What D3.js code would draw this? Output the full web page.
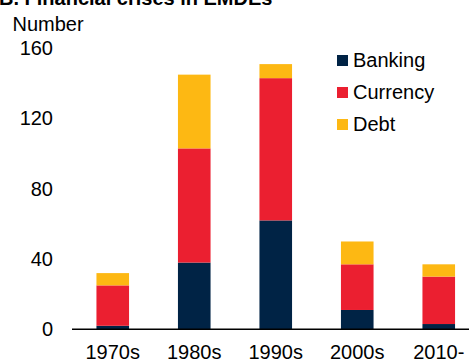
<!DOCTYPE html>
<html>
<head>
<meta charset="utf-8">
<script src="https://cdn.jsdelivr.net/npm/d3@7"></script>
<style>
  html, body { margin: 0; padding: 0; background: #fff; }
  svg { display: block; font-family: "Liberation Sans", Arial, Helvetica, sans-serif; }
</style>
</head>
<body>
<svg id="chart" width="469" height="363"></svg>
<script>
// Financial crises in EMDEs, by decade
const decades = ["1970s", "1980s", "1990s", "2000s", "2010-"];
const banking = [2, 38, 62, 11, 3];
const currency = [23, 65, 81, 26, 27];
const debt = [7, 42, 8, 13, 7];
const seriesNames = ["Banking", "Currency", "Debt"];
const seriesColors = ["#002345", "#EB1F30", "#FDB813"];
const yTicks = [0, 40, 80, 120, 160];

const rows = decades.map((d, i) => ({
  decade: d, Banking: banking[i], Currency: currency[i], Debt: debt[i]
}));
const stacked = d3.stack().keys(seriesNames)(rows);

const svg = d3.select("#chart");
const x = d3.scaleBand().domain(decades).range([72, 479.5]).paddingInner(0.6).paddingOuter(0.3);
const y = d3.scaleLinear().domain([0, 160]).range([329.3, 48.3]);

// Panel title, its upper part runs past the top edge
svg.append("text")
  .attr("x", -1).attr("y", 5)
  .attr("font-size", 20).attr("font-weight", "bold").attr("fill", "#000")
  .text("B. Financial crises in EMDEs");

// Axis title
svg.append("text")
  .attr("x", 12.5).attr("y", 31)
  .attr("font-size", 20).attr("fill", "#000")
  .text("Number");

// Y tick labels
const yAxis = svg.append("g").attr("transform", "translate(53,0)")
  .call(d3.axisLeft(y).tickValues(yTicks).tickSize(0).tickPadding(0));
yAxis.select(".domain").remove();
yAxis.selectAll("text").attr("font-size", 20).attr("fill", "#000")
  .attr("font-family", "Liberation Sans, Arial, sans-serif");

// Stacked bars
svg.append("g").selectAll("g").data(stacked).join("g")
  .attr("fill", (d, i) => seriesColors[i])
  .selectAll("rect").data(d => d).join("rect")
  .attr("x", d => x(d.data.decade))
  .attr("width", x.bandwidth())
  .attr("y", d => y(d[1]))
  .attr("height", d => y(d[0]) - y(d[1]));

// X axis
const xAxis = svg.append("g").attr("transform", `translate(0,${y(0)})`)
  .call(d3.axisBottom(x).tickSize(0).tickPadding(16));
xAxis.select(".domain").attr("stroke", "#000").attr("stroke-width", 1.5)
  .attr("d", `M72,0H469`);
xAxis.selectAll("text").attr("font-size", 20).attr("fill", "#000")
  .attr("font-family", "Liberation Sans, Arial, sans-serif");

// Legend
const legend = svg.append("g").selectAll("g").data(seriesNames).join("g")
  .attr("transform", (d, i) => `translate(337,${55 + i * 32})`);
legend.append("rect").attr("width", 11).attr("height", 11)
  .attr("fill", (d, i) => seriesColors[i]);
legend.append("text").attr("x", 16).attr("y", 11.5)
  .attr("font-size", 20).attr("fill", "#000").text(d => d);
</script>
</body>
</html>
